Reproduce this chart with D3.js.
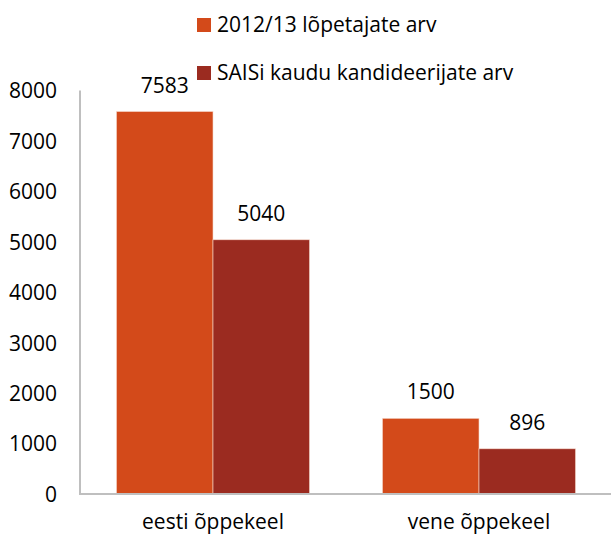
<!DOCTYPE html>
<html>
<head>
<meta charset="utf-8">
<script src="https://cdnjs.cloudflare.com/ajax/libs/d3/7.8.5/d3.min.js"></script>
<style>
  body { margin: 0; background: #ffffff; }
  text { font-family: "Open Sans", "Noto Sans", sans-serif; fill: #000; }
</style>
</head>
<body>
<div class="chart"></div>
<script>
const width = 611;
const height = 535;
const fontSize = "21px";

// data
const categories = ["eesti õppekeel", "vene õppekeel"];
const seriesNames = ["2012/13 lõpetajate arv", "SAISi kaudu kandideerijate arv"];
const graduates = [7583, 1500];
const candidates = [5040, 896];
const yTicks = [0, 1000, 2000, 3000, 4000, 5000, 6000, 7000, 8000];
const colors = ["#D34A1A", "#9B2B20"];

const rows = categories.map((c, i) => ({ cat: c, values: [graduates[i], candidates[i]] }));

const svg = d3.select(".chart")
              .append("svg")
              .attr("width", width)
              .attr("height", height);

// scales
const x0 = d3.scaleBand()
             .domain(categories)
             .range([80, 612])
             .padding(0);
const x1 = d3.scaleBand()
             .domain([0, 1])
             .range([0, x0.bandwidth()])
             .paddingInner(0)
             .paddingOuter(0.378);
const y = d3.scaleLinear()
            .domain([0, 8000])
            .range([494, 90.5]);

// y axis labels, no ticks
const yAxis = d3.axisLeft(y).tickValues(yTicks).tickFormat(d3.format("d")).tickSize(0).tickPadding(23);
const gy = svg.append("g")
              .attr("transform", "translate(80,0)")
              .call(yAxis);
gy.select(".domain").remove();
gy.selectAll("text").style("font-size", fontSize).style("font-family", "'Open Sans', sans-serif").attr("dy", "0.35em");

// bars
const groups = svg.selectAll(".grp")
                  .data(rows)
                  .enter().append("g")
                  .attr("class", "grp")
                  .attr("transform", d => "translate(" + x0(d.cat) + ",0)");

groups.selectAll("rect")
      .data(d => d.values)
      .enter().append("rect")
      .attr("x", (d, i) => x1(i))
      .attr("y", d => y(d))
      .attr("width", x1.bandwidth())
      .attr("height", d => y(0) - y(d))
      .attr("fill", (d, i) => colors[i])
      .attr("stroke", "#f6d9cc")
      .attr("stroke-width", 0.6);

groups.selectAll(".val")
      .data(d => d.values)
      .enter().append("text")
      .attr("class", "val")
      .attr("x", (d, i) => x1(i) + x1.bandwidth() / 2)
      .attr("y", d => y(d) - 19)
      .attr("text-anchor", "middle")
      .style("font-size", fontSize)
      .text(d => d);

// axis lines
svg.append("line")
   .attr("x1", 80).attr("x2", 80)
   .attr("y1", y(8000)).attr("y2", y(0))
   .attr("stroke", "#bfbfbf").attr("stroke-width", 2);
svg.append("line")
   .attr("x1", 79).attr("x2", width)
   .attr("y1", y(0)).attr("y2", y(0))
   .attr("stroke", "#bfbfbf").attr("stroke-width", 2);

// category labels
svg.selectAll(".cat")
   .data(categories)
   .enter().append("text")
   .attr("class", "cat")
   .attr("x", d => x0(d) + x0.bandwidth() / 2)
   .attr("y", 529)
   .attr("text-anchor", "middle")
   .style("font-size", fontSize)
   .text(d => d);

// legend
const legend = svg.selectAll(".leg")
                  .data(seriesNames)
                  .enter().append("g")
                  .attr("class", "leg")
                  .attr("transform", (d, i) => "translate(197," + (18 + i * 48) + ")");
legend.append("rect")
      .attr("width", 14).attr("height", 14)
      .attr("fill", (d, i) => colors[i]);
legend.append("text")
      .attr("x", 20)
      .attr("y", 7)
      .attr("dy", "0.35em")
      .style("font-size", fontSize)
      .text(d => d);
</script>
</body>
</html>
